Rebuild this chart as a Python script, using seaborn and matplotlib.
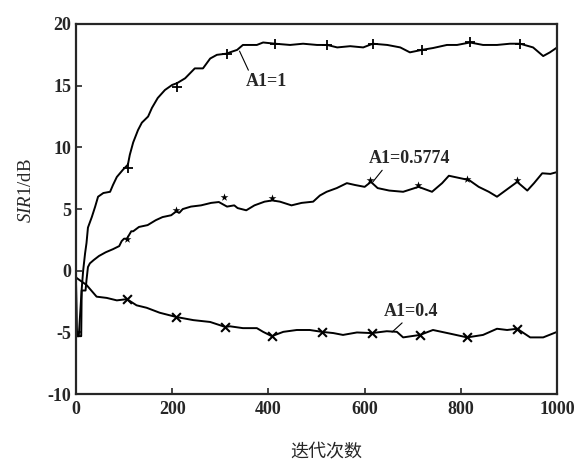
import pandas as pd
import seaborn as sns
import matplotlib.pyplot as plt

# iterations / SIR values
x_a1 = [0, 1, 3, 6, 8, 12, 15, 19, 22, 25, 33, 40, 46, 57, 71, 77, 85, 98, 108, 112, 119, 129,
        137, 150, 158, 170, 185, 200, 210, 227, 247, 264, 279, 293, 314, 320, 335, 347, 376,
        389, 414, 445, 472, 501, 522, 543, 570, 597, 617, 647, 674, 694, 719, 742, 771, 792,
        819, 846, 875, 902, 923, 950, 971, 985, 1000]
y_a1 = [0.0, -4.6, -5.3, -5.3, -4.0, -1.5, 0.0, 1.4, 2.25, 3.5, 4.35, 5.2, 6.0, 6.3, 6.4, 6.95,
        7.6, 8.2, 8.6, 9.4, 10.4, 11.4, 12.0, 12.5, 13.2, 14.0, 14.65, 15.06, 15.2, 15.6,
        16.4, 16.4, 17.2, 17.5, 17.6, 17.7, 17.9, 18.3, 18.3, 18.5, 18.4, 18.3, 18.4, 18.3,
        18.3, 18.1, 18.2, 18.1, 18.4, 18.3, 18.1, 17.7, 17.9, 18.05, 18.3, 18.3, 18.5, 18.3,
        18.3, 18.4, 18.4, 18.1, 17.4, 17.7, 18.1]

x_a2 = [0, 2, 11, 12, 20, 22, 25, 29, 37, 48, 62, 77, 90, 95, 100, 106, 115, 119, 131, 149,
        166, 180, 198, 208, 215, 222, 239, 260, 281, 297, 314, 329, 336, 354, 371, 392, 408,
        424, 448, 469, 493, 507, 521, 542, 563, 580, 600, 613, 627, 651, 680, 712, 740, 761,
        775, 799, 817, 837, 858, 875, 889, 903, 917, 938, 952, 969, 986, 1000]
y_a2 = [-0.5, -5.3, -5.3, -1.6, -1.6, -0.75, 0.3, 0.6, 0.87, 1.2, 1.5, 1.75, 2.0, 2.4, 2.6,
        2.6, 3.2, 3.2, 3.55, 3.7, 4.1, 4.35, 4.5, 4.8, 4.7, 5.0, 5.2, 5.3, 5.5, 5.57, 5.2, 5.3,
        5.08, 4.9, 5.3, 5.6, 5.7, 5.6, 5.3, 5.5, 5.6, 6.1, 6.4, 6.7, 7.1, 6.95, 6.8, 7.2, 6.7,
        6.5, 6.4, 6.8, 6.4, 7.1, 7.7, 7.5, 7.35, 6.8, 6.4, 6.0, 6.4, 6.8, 7.2, 6.5, 7.1, 7.9,
        7.85, 8.0]

x_a3 = [0, 2, 22, 43, 64, 85, 106, 126, 147, 174, 209, 244, 279, 310, 320, 347, 376, 389,
        407, 431, 459, 486, 511, 535, 555, 584, 615, 646, 667, 680, 715, 742, 778, 813, 846,
        875, 896, 917, 944, 971, 1000]
y_a3 = [-0.5, -0.6, -1.15, -2.1, -2.2, -2.4, -2.3, -2.8, -3.0, -3.4, -3.75, -4.0, -4.15,
        -4.55, -4.5, -4.65, -4.65, -4.95, -5.3, -4.95, -4.8, -4.8, -4.95, -5.05, -5.2, -5.0,
        -5.05, -4.9, -4.95, -5.4, -5.2, -4.8, -5.1, -5.4, -5.2, -4.7, -4.8, -4.7, -5.4, -5.4,
        -4.95]

# marker positions
mx_a1 = [108, 210, 314, 414, 522, 617, 719, 819, 923]
my_a1 = [8.3, 14.9, 17.6, 18.4, 18.3, 18.4, 17.9, 18.5, 18.4]
mx_a2 = [106, 208, 308, 408, 611, 711, 813, 917]
my_a2 = [2.6, 4.9, 6.0, 5.9, 7.35, 6.95, 7.45, 7.35]
mx_a3 = [106, 209, 310, 407, 511, 615, 715, 813, 917]
my_a3 = [-2.3, -3.75, -4.55, -5.3, -4.95, -5.05, -5.2, -5.4, -4.7]

sns.set_style("ticks")
plt.rcParams['font.family'] = ['Liberation Serif', 'DejaVu Serif']
plt.rcParams['axes.unicode_minus'] = False
plt.rcParams['mathtext.fontset'] = 'custom'
plt.rcParams['mathtext.it'] = 'Liberation Serif:italic'
plt.rcParams['mathtext.rm'] = 'Liberation Serif'

fig = plt.figure(figsize=(5.84, 4.61), dpi=100)
ax = fig.add_axes([0.130, 0.145, 0.824, 0.803])

for xs, ys in [(x_a1, y_a1), (x_a2, y_a2), (x_a3, y_a3)]:
    sns.lineplot(data=pd.DataFrame({"x": xs, "y": ys}), x="x", y="y", sort=False,
                 color="black", linewidth=1.4, ax=ax)

sns.scatterplot(x=mx_a1, y=my_a1, marker="+", s=55, color="black", linewidth=1.3, ax=ax)
sns.scatterplot(x=mx_a2, y=my_a2, marker="*", s=35, color="black", linewidth=0, ax=ax)
sns.scatterplot(x=mx_a3, y=my_a3, marker="x", s=40, color="black", linewidth=1.5, ax=ax)

# labels with leader lines
arrow = dict(arrowstyle="-", color="black", lw=0.8, shrinkA=0, shrinkB=0)
ax.annotate("A1=1", xy=(340, 17.8), xytext=(353, 15.3), fontsize=13, fontweight="bold",
            va="center", arrowprops=dict(arrow, relpos=(0.1, 1)))
ax.annotate("A1=0.5774", xy=(617, 7.2), xytext=(608, 9.1), fontsize=13, fontweight="bold",
            va="center", arrowprops=dict(arrow, relpos=(0.2, 0)))
ax.annotate("A1=0.4", xy=(657, -4.97), xytext=(640, -3.27), fontsize=13, fontweight="bold",
            va="center", arrowprops=dict(arrow, relpos=(0.4, 0)))

ax.set_xlim(0, 1000)
ax.set_ylim(-10, 20)
ax.set_xticks(range(0, 1001, 200))
ax.set_yticks(range(-10, 21, 5))
ax.tick_params(direction="in", length=4, width=1.2, labelsize=13)
ax.tick_params(axis="x", pad=5)
for lab in ax.get_xticklabels() + ax.get_yticklabels():
    lab.set_fontweight("bold")
for sp in ax.spines.values():
    sp.set_visible(True)
    sp.set_linewidth(1.6)

ax.set_xlabel("迭代次数", family=['Noto Sans CJK SC', 'DejaVu Sans'], fontsize=13)
ax.xaxis.label.set_va("center")
ax.xaxis.set_label_coords(0.52, -0.154)
ax.set_ylabel(r"$SIR$1/dB", fontsize=13.5)
ax.yaxis.set_label_coords(-0.085, 0.55)

fig.savefig("out.png", dpi=100)
